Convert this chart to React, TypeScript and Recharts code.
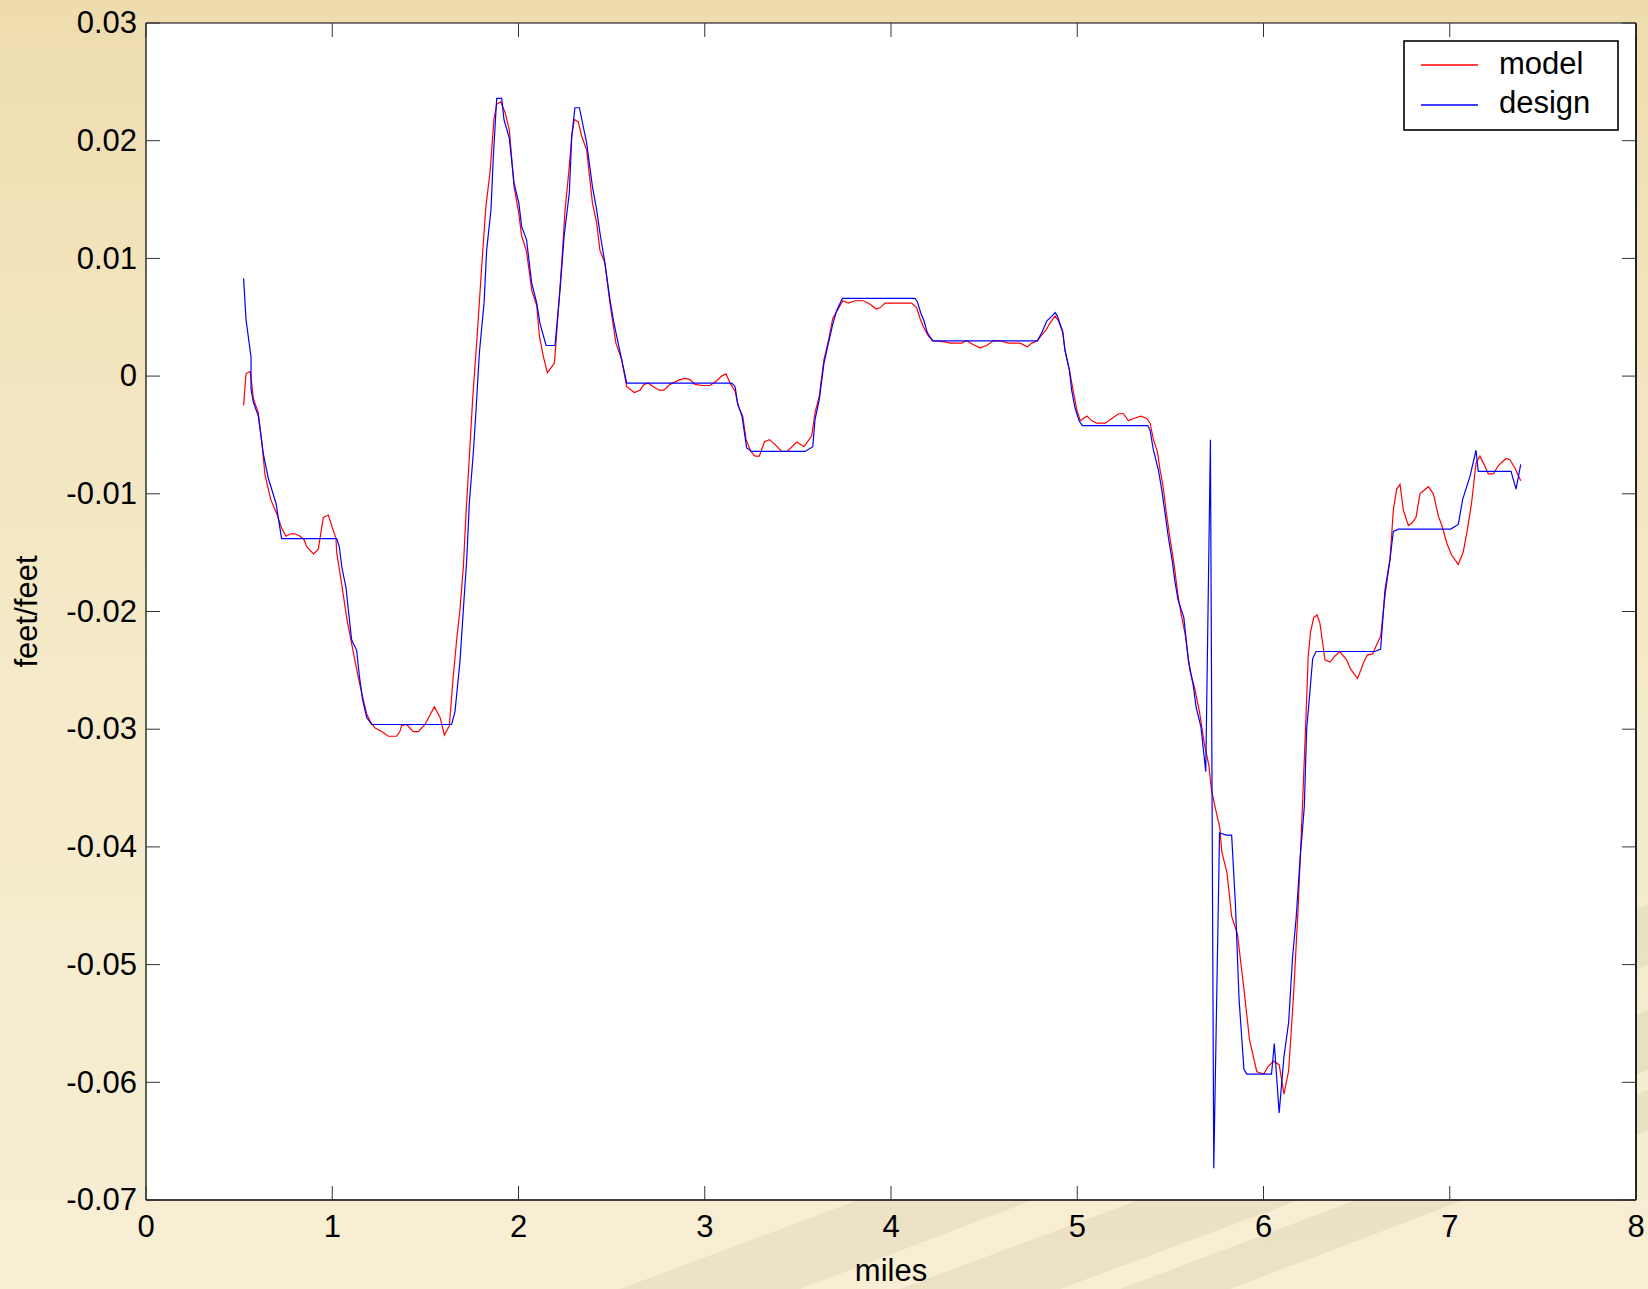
import React from 'react';
import { LineChart, Line, XAxis, YAxis, CartesianGrid, Legend } from 'recharts';

// ---- data (miles, feet/feet) ----
const designMiles = [
  0.524, 0.537, 0.564, 0.564, 0.576, 0.603, 0.63, 0.657, 0.698, 0.728,
  1.024, 1.038, 1.051, 1.074, 1.086, 1.104, 1.131, 1.145, 1.163, 1.185, 1.212,
  1.641, 1.659, 1.686, 1.704, 1.722, 1.736, 1.757, 1.772, 1.79, 1.815, 1.829,
  1.852, 1.865, 1.883, 1.91, 1.922, 1.951, 1.976, 2.002, 2.017, 2.043, 2.071,
  2.098, 2.115, 2.148, 2.196, 2.223, 2.245, 2.273, 2.286, 2.303, 2.327, 2.366,
  2.397, 2.42, 2.437, 2.464, 2.491, 2.509, 2.527, 2.554, 2.581,
  3.145, 3.163, 3.176, 3.2, 3.225, 3.253, 3.538, 3.58, 3.592, 3.615, 3.64,
  3.664, 3.687, 3.709, 3.739, 4.129, 4.142, 4.159, 4.177, 4.195, 4.222,
  4.786, 4.81, 4.837, 4.864, 4.881, 4.893, 4.922, 4.934, 4.958, 4.97, 4.988,
  5.01, 5.027, 5.378, 5.391, 5.409, 5.436, 5.455, 5.47, 5.49, 5.51, 5.525,
  5.541, 5.572, 5.597, 5.623, 5.638, 5.664, 5.69, 5.715, 5.733, 5.764, 5.799,
  5.829, 5.849, 5.869, 5.895, 5.91, 6.043, 6.058, 6.084, 6.11, 6.135, 6.156,
  6.176, 6.196, 6.219, 6.232, 6.245, 6.264, 6.282, 6.599, 6.629, 6.652, 6.679,
  6.697, 6.725, 7.005, 7.046, 7.069, 7.109, 7.141, 7.153, 7.329, 7.356, 7.381,
];
const designGrade = [
  0.0083, 0.0048, 0.0016, -0.0011, -0.0022, -0.0034, -0.0066, -0.0087, -0.0108, -0.0138,
  -0.0138, -0.0145, -0.0162, -0.018, -0.0198, -0.0224, -0.0233, -0.0254, -0.0275, -0.029, -0.0296,
  -0.0296, -0.0285, -0.0242, -0.0198, -0.0156, -0.0108, -0.0066, -0.0029, 0.002, 0.0062, 0.0107,
  0.0141, 0.0187, 0.0236, 0.0236, 0.0218, 0.0202, 0.0164, 0.0147, 0.0127, 0.0116, 0.0079,
  0.0062, 0.0045, 0.0026, 0.0026, 0.0073, 0.0119, 0.0156, 0.0204, 0.0228, 0.0228, 0.0198,
  0.0161, 0.0141, 0.0122, 0.0096, 0.0065, 0.0048, 0.0034, 0.0014, -0.0006,
  -0.0006, -0.0009, -0.0023, -0.0034, -0.0061, -0.0064, -0.0064, -0.006, -0.0037, -0.002, 0.0011,
  0.0028, 0.0044, 0.0056, 0.0066, 0.0066, 0.0063, 0.0054, 0.0047, 0.0037, 0.003,
  0.003, 0.0037, 0.0047, 0.0051, 0.0054, 0.0051, 0.0038, 0.0022, 0.0005, -0.0012, -0.0027,
  -0.0038, -0.0042, -0.0042, -0.0046, -0.0063, -0.008, -0.0098, -0.0115, -0.0138, -0.0157, -0.0175,
  -0.019, -0.0205, -0.0242, -0.0263, -0.0281, -0.0298, -0.0336, -0.0054, -0.0673, -0.0388, -0.039,
  -0.039, -0.0448, -0.053, -0.0589, -0.0593, -0.0593, -0.0567, -0.0626, -0.0578, -0.0549, -0.0494,
  -0.0459, -0.0411, -0.0366, -0.0299, -0.0276, -0.024, -0.0234, -0.0234, -0.0232, -0.0182, -0.0156,
  -0.0132, -0.013, -0.013, -0.0126, -0.0105, -0.0085, -0.0063, -0.0081, -0.0081, -0.0096, -0.0075,
];

const modelMiles = [
  0.524, 0.537, 0.559, 0.568, 0.576, 0.603, 0.621, 0.639, 0.67, 0.702, 0.728, 0.752,
  0.777, 0.8, 0.827, 0.849, 0.863, 0.899, 0.925, 0.952, 0.979, 0.997, 1.02, 1.024,
  1.051, 1.078, 1.104, 1.122, 1.145, 1.167, 1.185, 1.206, 1.23, 1.265, 1.301, 1.345,
  1.363, 1.372, 1.399, 1.435, 1.462, 1.498, 1.525, 1.548, 1.579, 1.602, 1.629, 1.647,
  1.668, 1.686, 1.704, 1.718, 1.736, 1.754, 1.778, 1.801, 1.825, 1.847, 1.868, 1.883,
  1.904, 1.928, 1.951, 1.976, 1.999, 2.017, 2.043, 2.071, 2.098, 2.112, 2.133, 2.155,
  2.169, 2.193, 2.214, 2.232, 2.25, 2.271, 2.286, 2.3, 2.321, 2.339, 2.366, 2.397,
  2.42, 2.437, 2.464, 2.491, 2.523, 2.554, 2.581, 2.622, 2.652, 2.674, 2.697, 2.724,
  2.756, 2.781, 2.813, 2.867, 2.894, 2.921, 2.948, 2.984, 3.028, 3.064, 3.091, 3.114,
  3.136, 3.163, 3.181, 3.204, 3.222, 3.247, 3.27, 3.293, 3.32, 3.347, 3.377, 3.413,
  3.443, 3.494, 3.533, 3.574, 3.592, 3.615, 3.64, 3.664, 3.687, 3.709, 3.741, 3.771,
  3.807, 3.852, 3.888, 3.92, 3.941, 3.968, 4.031, 4.111, 4.138, 4.156, 4.174, 4.201,
  4.227, 4.29, 4.317, 4.38, 4.406, 4.438, 4.478, 4.514, 4.549, 4.585, 4.63, 4.693,
  4.732, 4.756, 4.786, 4.804, 4.832, 4.853, 4.881, 4.899, 4.922, 4.934, 4.958, 4.98,
  4.998, 5.016, 5.052, 5.079, 5.105, 5.15, 5.186, 5.222, 5.248, 5.275, 5.302, 5.341,
  5.373, 5.391, 5.409, 5.43, 5.445, 5.46, 5.48, 5.5, 5.52, 5.54, 5.554, 5.579,
  5.605, 5.63, 5.656, 5.682, 5.707, 5.72, 5.74, 5.766, 5.776, 5.804, 5.829, 5.86,
  5.895, 5.925, 5.964, 6.002, 6.023, 6.053, 6.084, 6.11, 6.135, 6.161, 6.186, 6.211,
  6.228, 6.24, 6.253, 6.27, 6.288, 6.303, 6.33, 6.357, 6.383, 6.41, 6.446, 6.468,
  6.505, 6.536, 6.557, 6.586, 6.611, 6.629, 6.652, 6.679, 6.697, 6.715, 6.733, 6.751,
  6.778, 6.796, 6.819, 6.84, 6.885, 6.912, 6.939, 6.96, 6.984, 7.01, 7.046, 7.073,
  7.094, 7.117, 7.141, 7.162, 7.184, 7.207, 7.234, 7.261, 7.302, 7.323, 7.35, 7.381,
];
const modelGrade = [
  -0.0025, 0.0002, 0.0004, -0.0007, -0.0019, -0.0031, -0.0055, -0.0084, -0.0105, -0.0117, -0.0129, -0.0136,
  -0.0134, -0.0134, -0.0136, -0.0139, -0.0145, -0.0151, -0.0147, -0.012, -0.0118, -0.0127, -0.0138, -0.015,
  -0.0177, -0.0206, -0.0227, -0.0242, -0.026, -0.0275, -0.0287, -0.0294, -0.0299, -0.0302, -0.0306, -0.0306,
  -0.0302, -0.0297, -0.0296, -0.0302, -0.0302, -0.0296, -0.0288, -0.0281, -0.029, -0.0305, -0.0297, -0.026,
  -0.0224, -0.0198, -0.0162, -0.0117, -0.0069, -0.0019, 0.0034, 0.009, 0.0144, 0.0173, 0.0218, 0.0231,
  0.0233, 0.0224, 0.0209, 0.0161, 0.0141, 0.0119, 0.0106, 0.0073, 0.006, 0.0034, 0.0017, 0.0003,
  0.0006, 0.0011, 0.0056, 0.0096, 0.0141, 0.0175, 0.0204, 0.0218, 0.0216, 0.0204, 0.0192, 0.0147,
  0.013, 0.0107, 0.0096, 0.0062, 0.0028, 0.0014, -0.0009, -0.0014, -0.0012, -0.0007, -0.0006, -0.0009,
  -0.0012, -0.0012, -0.0007, -0.0003, -0.0002, -0.0003, -0.0007, -0.0008, -0.0008, -0.0004, 0.0, 0.0002,
  -0.0006, -0.0013, -0.0026, -0.0034, -0.0054, -0.0064, -0.0068, -0.0068, -0.0056, -0.0054, -0.0058, -0.0064,
  -0.0064, -0.0056, -0.006, -0.0051, -0.0031, -0.0017, 0.0014, 0.003, 0.0049, 0.0055, 0.0064, 0.0062,
  0.0064, 0.0064, 0.0061, 0.0057, 0.0058, 0.0062, 0.0062, 0.0062, 0.0058, 0.0049, 0.0042, 0.0034,
  0.003, 0.0029, 0.0028, 0.0028, 0.003, 0.0027, 0.0024, 0.0026, 0.003, 0.003, 0.0028, 0.0028,
  0.0025, 0.0028, 0.003, 0.0034, 0.0039, 0.0045, 0.0051, 0.0047, 0.0037, 0.0022, 0.0005, -0.0014,
  -0.0029, -0.0038, -0.0034, -0.0038, -0.004, -0.004, -0.0036, -0.0032, -0.0032, -0.0038, -0.0036, -0.0034,
  -0.0036, -0.004, -0.0054, -0.0064, -0.008, -0.0093, -0.0118, -0.014, -0.016, -0.0185, -0.0199, -0.0219,
  -0.025, -0.0265, -0.0285, -0.0312, -0.0331, -0.0351, -0.0366, -0.0384, -0.0404, -0.0422, -0.0459, -0.0474,
  -0.0521, -0.0564, -0.0591, -0.0593, -0.0587, -0.0582, -0.0585, -0.061, -0.059, -0.0527, -0.0452, -0.0358,
  -0.029, -0.0238, -0.0217, -0.0205, -0.0203, -0.021, -0.0241, -0.0243, -0.0238, -0.0234, -0.0241, -0.0249,
  -0.0257, -0.0244, -0.0237, -0.0236, -0.0227, -0.0221, -0.0187, -0.0156, -0.0114, -0.0096, -0.0092, -0.0114,
  -0.0127, -0.0125, -0.012, -0.01, -0.0094, -0.01, -0.0119, -0.0128, -0.0142, -0.0152, -0.016, -0.0149,
  -0.0131, -0.0108, -0.0074, -0.0068, -0.0075, -0.0083, -0.0083, -0.0076, -0.007, -0.0071, -0.0078, -0.0089,
];

const xTicks = [0, 1, 2, 3, 4, 5, 6, 7, 8];
const yTicks = [0.03, 0.02, 0.01, 0, -0.01, -0.02, -0.03, -0.04, -0.05, -0.06, -0.07];
const seriesNames = ['model', 'design'];
const seriesColors = ['#ff0000', '#0000ff'];
const xLabel = 'miles';
const yLabel = 'feet/feet';

const modelData = modelMiles.map((m, i) => ({ miles: m, grade: modelGrade[i] }));
const designData = designMiles.map((m, i) => ({ miles: m, grade: designGrade[i] }));

const FONT = '"Liberation Sans", Arial, Helvetica, sans-serif';
const FS = 31;
const TICK = 14;

const fmtY = (v: number) => String(Number(v.toFixed(2)));

const BottomTick = (props: any) => {
  const { x, y, payload } = props;
  return (
    <g>
      <line x1={x} x2={x} y1={y} y2={y - TICK} stroke="#333" strokeWidth={1} />
      <text x={x} y={y + 37} textAnchor="middle" fontSize={FS} fontFamily={FONT} fill="#000">
        {payload.value}
      </text>
    </g>
  );
};
const TopTick = (props: any) => {
  const { x, y } = props;
  return <line x1={x} x2={x} y1={y} y2={y + TICK} stroke="#333" strokeWidth={1} />;
};
const LeftTick = (props: any) => {
  const { x, y, payload } = props;
  return (
    <g>
      <line x1={x} x2={x + TICK} y1={y} y2={y} stroke="#333" strokeWidth={1} />
      <text x={x - 9} y={y} dy="0.33em" textAnchor="end" fontSize={FS} fontFamily={FONT} fill="#000">
        {fmtY(payload.value)}
      </text>
    </g>
  );
};
const RightTick = (props: any) => {
  const { x, y } = props;
  return <line x1={x} x2={x - TICK} y1={y} y2={y} stroke="#333" strokeWidth={1} />;
};

const XLabel = (props: any) => {
  const { viewBox } = props;
  return (
    <text x={viewBox.x + viewBox.width / 2} y={viewBox.y + 81} textAnchor="middle" fontSize={FS} fontFamily={FONT} fill="#000">
      {xLabel}
    </text>
  );
};
const YLabel = (props: any) => {
  const { viewBox } = props;
  const cx = viewBox.x - 60;
  const cy = viewBox.y + viewBox.height / 2;
  return (
    <text x={cx} y={cy} dy="0.35em" transform={`rotate(-90 ${cx} ${cy})`} textAnchor="middle" fontSize={FS} fontFamily={FONT} fill="#000">
      {yLabel}
    </text>
  );
};

const LegendBox = () => (
  <svg width={216} height={92} style={{ display: 'block' }}>
    <rect x={1} y={1} width={214} height={89} fill="#ffffff" stroke="#000" strokeWidth={1.6} />
    {seriesNames.map((n, i) => (
      <g key={n}>
        <line x1={18} x2={75} y1={25 + i * 40} y2={25 + i * 40} stroke={seriesColors[i]} strokeWidth={1.3} />
        <text x={96} y={34 + i * 39} fontSize={FS} fontFamily={FONT} fill="#000">
          {n}
        </text>
      </g>
    ))}
  </svg>
);

export default function App() {
  return (
    <div
      style={{
        position: 'absolute',
        left: 0,
        top: 0,
        width: 1648,
        height: 1289,
        overflow: 'hidden',
        background: 'linear-gradient(180deg, #eedcae 0%, #f2e4bd 25%, #f5eaca 55%, #f7eed4 100%)',
      }}
    >
      <svg width={1648} height={1289} style={{ position: 'absolute', left: 0, top: 0 }}>
        <polygon points="620,1289 1648,905 1648,965 800,1289" fill="rgba(150,130,90,0.10)" />
        <polygon points="900,1289 1648,1010 1648,1070 1060,1289" fill="rgba(150,130,90,0.12)" />
        <polygon points="1120,1289 1648,1090 1648,1130 1230,1289" fill="rgba(150,130,90,0.12)" />
      </svg>
      <div style={{ position: 'absolute', left: 0, top: 0 }}>
        <LineChart width={1648} height={1289} margin={{ top: 22, right: 11, bottom: 49, left: 86 }}>
          <CartesianGrid fill="#ffffff" stroke="none" />
          <XAxis
            xAxisId="top"
            orientation="top"
            type="number"
            dataKey="miles"
            domain={[0, 8]}
            ticks={xTicks}
            interval={0}
            height={1}
            tickSize={0}
            tickMargin={0}
            tick={<TopTick />}
            axisLine={{ stroke: '#000', strokeWidth: 1.2 }}
            tickLine={false}
            allowDataOverflow
          />
          <XAxis
            type="number"
            dataKey="miles"
            domain={[0, 8]}
            ticks={xTicks}
            interval={0}
            height={40}
            tickSize={0}
            tickMargin={0}
            tick={<BottomTick />}
            axisLine={{ stroke: '#000', strokeWidth: 1.6 }}
            tickLine={false}
            allowDataOverflow
            label={<XLabel />}
          />
          <YAxis
            type="number"
            domain={[-0.07, 0.03]}
            ticks={yTicks}
            interval={0}
            width={60}
            tickSize={0}
            tickMargin={0}
            tick={<LeftTick />}
            axisLine={{ stroke: '#000', strokeWidth: 1.2 }}
            tickLine={false}
            allowDataOverflow
            label={<YLabel />}
          />
          <YAxis
            yAxisId="right"
            orientation="right"
            type="number"
            domain={[-0.07, 0.03]}
            ticks={yTicks}
            interval={0}
            width={1}
            tickSize={0}
            tickMargin={0}
            tick={<RightTick />}
            axisLine={{ stroke: '#222', strokeWidth: 2 }}
            tickLine={false}
            allowDataOverflow
          />
          <Line
            data={modelData}
            dataKey="grade"
            name={seriesNames[0]}
            type="linear"
            stroke={seriesColors[0]}
            strokeWidth={1.2}
            dot={false}
            activeDot={false}
            isAnimationActive={false}
          />
          <Line
            data={designData}
            dataKey="grade"
            name={seriesNames[1]}
            type="linear"
            stroke={seriesColors[1]}
            strokeWidth={1.2}
            dot={false}
            activeDot={false}
            isAnimationActive={false}
          />
          <Legend
            layout="vertical"
            align="center"
            verticalAlign="middle"
            content={<LegendBox />}
            wrapperStyle={{ position: 'absolute', left: 1403, top: 40, width: 216, height: 92, margin: 0, padding: 0 }}
          />
        </LineChart>
      </div>
    </div>
  );
}
